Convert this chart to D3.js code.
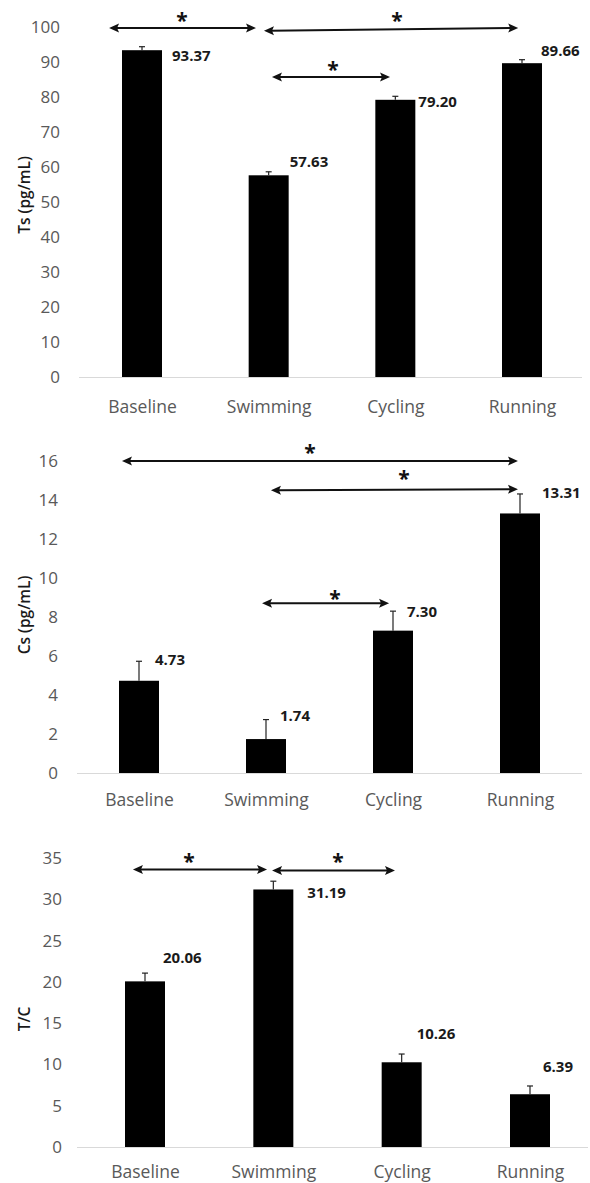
<!DOCTYPE html>
<html>
<head>
<meta charset="utf-8">
<script src="https://cdn.jsdelivr.net/npm/d3@7"></script>
<style>
  html, body { margin: 0; padding: 0; background: #fff; }
  svg { display: block; }
  text { font-family: "Open Sans", "Noto Sans", sans-serif; }
</style>
</head>
<body>
<svg id="chart" width="590" height="1183"></svg>
<script>
// ---------- DATA ----------
const categories = ["Baseline", "Swimming", "Cycling", "Running"];

const tsValues = [93.37, 57.63, 79.20, 89.66];
const tsErrors = [1, 1, 1, 1];
const tsTicks  = [0, 10, 20, 30, 40, 50, 60, 70, 80, 90, 100];

const csValues = [4.73, 1.74, 7.30, 13.31];
const csErrors = [1, 1, 1, 1];
const csTicks  = [0, 2, 4, 6, 8, 10, 12, 14, 16];

const tcValues = [20.06, 31.19, 10.26, 6.39];
const tcErrors = [1, 1, 1, 1];
const tcTicks  = [0, 5, 10, 15, 20, 25, 30, 35];

const yTitles = ["Ts (pg/mL)", "Cs (pg/mL)", "T/C"];

// significance arrows: endpoints in category-index units, level in value units
const tsSig = [
  { from: -0.26, to: 0.90, y1: 99.7, y2: 99.7, star: 0.316 },
  { from: 0.963, to: 2.97, y1: 98.9, y2: 99.7, star: 2.013 },
  { from: 1.026, to: 1.958, y1: 85.7, y2: 85.7, star: 1.508 }
];
const csSig = [
  { from: -0.134, to: 2.984, y1: 16.0, y2: 16.0, star: 1.346 },
  { from: 1.039, to: 2.984, y1: 14.5, y2: 14.55, star: 2.087 },
  { from: 0.969, to: 1.969, y1: 8.7, y2: 8.7, star: 1.543 }
];
const tcSig = [
  { from: -0.094, to: 0.951, y1: 33.6, y2: 33.6, star: 0.343 },
  { from: 0.99, to: 1.948, y1: 33.5, y2: 33.5, star: 1.504 }
];

// ---------- LAYOUT ----------
const layouts = [
  { values: tsValues, errors: tsErrors, ticks: tsTicks, sig: tsSig, title: yTitles[0],
    y0: 377, y1: 27, yMax: 100, xFirst: 142, xLast: 522, axisL: 79, axisR: 582,
    tickRight: 60, catDy: 30, titleY: 195, starDy: [-9, -10, -9],
    lblDx: [30, 21, 23, 19], lblDy: [9, -10, 5, -9] },
  { values: csValues, errors: csErrors, ticks: csTicks, sig: csSig, title: yTitles[1],
    y0: 773, y1: 461, yMax: 16, xFirst: 139, xLast: 520, axisL: 77, axisR: 582,
    tickRight: 58, catDy: 27, titleY: 615, starDy: [-10, -13, -6],
    lblDx: [16, 14, 14, 22], lblDy: [-2, -4, 1, -1] },
  { values: tcValues, errors: tcErrors, ticks: tcTicks, sig: tcSig, title: yTitles[2],
    y0: 1147, y1: 858, yMax: 35, xFirst: 145, xLast: 530, axisL: 77, axisR: 588,
    tickRight: 62, catDy: 25, titleY: 1019, starDy: [-10, -10],
    lblDx: [18, 34, 15, 13], lblDy: [-15, 12, -20, -19] }
];

const svg = d3.select("#chart");
const barW = 40;

function drawArrowHead(g, x, y, dir) {
  const L = 10, H = 4.5;
  g.append("path")
    .attr("d", `M${x},${y} L${x - dir * L},${y - H} L${x - dir * L + dir * 2},${y} L${x - dir * L},${y + H} Z`)
    .attr("fill", "#111");
}

layouts.forEach(cfg => {
  const g = svg.append("g");
  const x = d3.scalePoint().domain(categories).range([cfg.xFirst, cfg.xLast]);
  const xi = d3.scaleLinear().domain([0, categories.length - 1]).range([cfg.xFirst, cfg.xLast]);
  const y = d3.scaleLinear().domain([0, cfg.yMax]).range([cfg.y0, cfg.y1]);

  g.append("line")
    .attr("x1", cfg.axisL).attr("x2", cfg.axisR)
    .attr("y1", y(0) + 0.5).attr("y2", y(0) + 0.5)
    .attr("stroke", "#d9d9d9").attr("stroke-width", 1);

  const yAxis = d3.axisLeft(y).tickValues(cfg.ticks).tickSize(0).tickPadding(0);
  const ya = g.append("g").attr("transform", `translate(${cfg.tickRight},0)`).call(yAxis);
  ya.select(".domain").remove();
  ya.selectAll("text")
    .attr("fill", "#595959").attr("font-size", "17px")
    .style("font-family", '"Open Sans", sans-serif');

  const xAxis = d3.axisBottom(x).tickSize(0).tickPadding(0);
  const xa = g.append("g").attr("transform", `translate(0,${y(0) + cfg.catDy})`).call(xAxis);
  xa.select(".domain").remove();
  xa.selectAll("text")
    .attr("dy", "0.35em").attr("y", 0)
    .attr("fill", "#595959").attr("font-size", "17.5px")
    .style("font-family", '"Open Sans", sans-serif');

  g.append("text")
    .attr("transform", `translate(25,${cfg.titleY}) rotate(-90)`)
    .attr("text-anchor", "middle").attr("dy", "0.35em")
    .attr("font-size", "15.5px").attr("font-weight", 600).attr("fill", "#1a1a1a")
    .text(cfg.title);

  g.selectAll("rect.bar").data(cfg.values).enter().append("rect")
    .attr("class", "bar")
    .attr("x", (d, i) => x(categories[i]) - barW / 2)
    .attr("width", barW)
    .attr("y", d => y(d))
    .attr("height", d => y(0) - y(d))
    .attr("fill", "#000");

  cfg.values.forEach((v, i) => {
    const cx = x(categories[i]);
    const top = y(v + cfg.errors[i]);
    g.append("line").attr("x1", cx).attr("x2", cx).attr("y1", y(v)).attr("y2", top)
      .attr("stroke", "#222").attr("stroke-width", 1.2);
    g.append("line").attr("x1", cx - 3).attr("x2", cx + 3).attr("y1", top).attr("y2", top)
      .attr("stroke", "#222").attr("stroke-width", 1.2);
    g.append("text")
      .attr("x", cx + cfg.lblDx[i])
      .attr("y", top + cfg.lblDy[i])
      .attr("dy", "0.35em")
      .attr("font-size", "15px").attr("font-weight", 700).attr("fill", "#1a1a1a")
      .text(d3.format(".2f")(v));
  });

  cfg.sig.forEach((s, k) => {
    const xa1 = xi(s.from), xa2 = xi(s.to);
    const ya1 = y(s.y1), ya2 = y(s.y2);
    g.append("line")
      .attr("x1", xa1 + 6).attr("x2", xa2 - 6)
      .attr("y1", ya1).attr("y2", ya2)
      .attr("stroke", "#111").attr("stroke-width", 2);
    drawArrowHead(g, xa1, ya1, -1);
    drawArrowHead(g, xa2, ya2, 1);
    const sx = xi(s.star);
    const sy = ya1 + (ya2 - ya1) * (s.star - s.from) / (s.to - s.from) + cfg.starDy[k];
    g.append("text")
      .attr("x", sx).attr("y", sy + 9)
      .attr("text-anchor", "middle")
      .attr("font-size", "21px").attr("font-weight", 700).attr("fill", "#111")
      .text("*");
  });
});
</script>
</body>
</html>
